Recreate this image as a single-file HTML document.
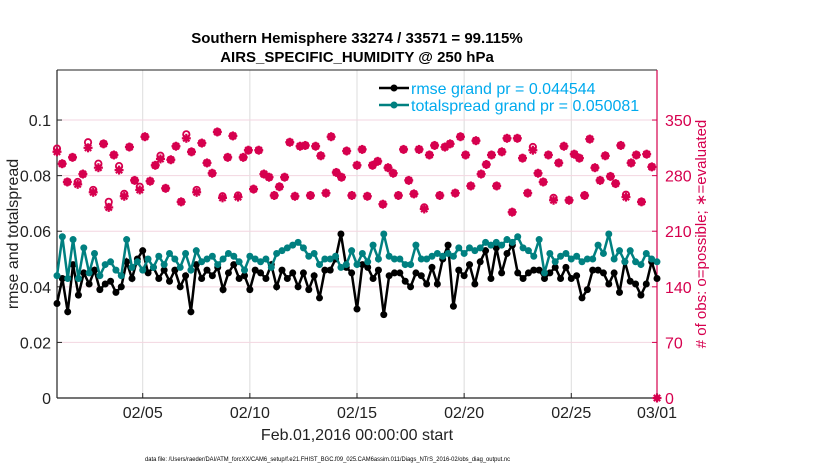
<!DOCTYPE html>
<html><head><meta charset="utf-8"><style>
body{margin:0;background:#fff;font-family:"Liberation Sans",sans-serif}
svg text{font-family:"Liberation Sans",sans-serif}
</style></head><body>
<svg id="c" width="830" height="470" xmlns="http://www.w3.org/2000/svg"></svg>
<script>
const rmse=[0.034,0.043,0.031,0.048,0.037,0.045,0.041,0.046,0.039,0.041,0.042,0.038,0.040,0.049,0.043,0.050,0.053,0.045,0.047,0.043,0.046,0.042,0.046,0.040,0.044,0.031,0.048,0.043,0.046,0.044,0.047,0.039,0.045,0.048,0.043,0.044,0.039,0.046,0.045,0.043,0.048,0.040,0.046,0.043,0.045,0.040,0.045,0.039,0.044,0.036,0.046,0.046,0.050,0.059,0.047,0.045,0.032,0.048,0.047,0.043,0.046,0.030,0.044,0.045,0.045,0.042,0.040,0.045,0.044,0.041,0.047,0.041,0.050,0.055,0.033,0.046,0.044,0.048,0.041,0.049,0.053,0.043,0.054,0.045,0.052,0.055,0.045,0.043,0.045,0.046,0.046,0.043,0.045,0.047,0.043,0.047,0.043,0.044,0.036,0.039,0.046,0.046,0.045,0.041,0.045,0.038,0.049,0.042,0.041,0.037,0.041,0.049,0.043];
const spread=[0.044,0.058,0.043,0.057,0.043,0.054,0.045,0.052,0.044,0.048,0.049,0.046,0.044,0.057,0.047,0.049,0.046,0.050,0.047,0.051,0.048,0.052,0.050,0.047,0.052,0.046,0.053,0.049,0.050,0.051,0.048,0.050,0.052,0.051,0.049,0.046,0.051,0.050,0.049,0.050,0.047,0.052,0.053,0.054,0.055,0.056,0.054,0.051,0.052,0.048,0.050,0.050,0.051,0.047,0.048,0.053,0.048,0.052,0.049,0.055,0.050,0.059,0.051,0.050,0.050,0.048,0.048,0.055,0.050,0.050,0.051,0.052,0.051,0.052,0.051,0.054,0.052,0.054,0.053,0.054,0.056,0.055,0.056,0.055,0.057,0.056,0.058,0.054,0.053,0.051,0.057,0.045,0.052,0.049,0.051,0.052,0.050,0.051,0.049,0.050,0.050,0.055,0.052,0.059,0.050,0.053,0.049,0.053,0.049,0.048,0.052,0.050,0.049];
const obsEval=[310,295,272,303,269,282,315,259,290,320,240,306,287,254,316,274,262,329,273,293,301,264,300,317,247,327,310,259,321,296,283,335,252,303,330,253,303,312,263,312,282,278,255,266,278,322,254,317,318,255,317,305,258,329,284,278,311,255,293,313,254,293,298,244,290,283,255,313,274,257,313,238,306,318,255,316,320,258,329,306,267,324,282,294,306,267,310,327,234,327,302,258,312,283,272,306,249,296,317,249,307,302,255,326,290,274,305,279,270,318,253,296,306,247,307,291,0];
const obsPoss=[314,295,272,303,272,282,322,262,295,320,247,306,292,257,316,274,266,329,273,293,305,264,300,317,247,332,310,262,321,296,283,335,254,303,330,255,303,312,263,312,282,278,255,266,278,322,254,317,318,255,317,305,258,329,284,278,311,255,293,313,254,293,298,244,290,283,255,313,274,257,313,240,306,318,255,316,320,258,329,306,267,324,282,294,306,267,310,327,234,327,302,258,316,283,272,306,252,296,317,249,307,302,255,326,290,274,305,279,270,318,256,296,306,247,307,291,0];
const xTicks=["02/05","02/10","02/15","02/20","02/25","03/01"];
const xTickDays=[4,9,14,19,24,28];
const yTicks=[0,0.02,0.04,0.06,0.08,0.1];
const yTickLabels=["0","0.02","0.04","0.06","0.08","0.1"];
const y2Ticks=[0,70,140,210,280,350];

const svg=document.getElementById('c');const NS="http://www.w3.org/2000/svg";
const L=57,R=657,T=70,B=398;
const xs=d=>L+(d/28)*(R-L);
const ys=v=>B-(v/0.118)*(B-T);
const y2=v=>B-(v/413)*(B-T);
const dayOf=(i,n)=>i*28/(n-1);
function el(t,a,p){const e=document.createElementNS(NS,t);for(const k in a)e.setAttribute(k,a[k]);(p||svg).appendChild(e);return e;}
xTickDays.forEach(d=>{const g=el('line',{x1:xs(d),x2:xs(d),y1:T,y2:B,stroke:'#dcdcdc','stroke-width':1});});
yTicks.slice(1).forEach(v=>{const g=el('line',{x1:L,x2:R,y1:ys(v),y2:ys(v),stroke:'#f3d6e0','stroke-width':1});});
let a=el('line',{x1:L,x2:R,y1:T,y2:T,stroke:'#222','stroke-width':1});
a=el('line',{x1:L,x2:L,y1:T,y2:B,stroke:'#222','stroke-width':1.2});
a=el('line',{x1:L,x2:R,y1:B,y2:B,stroke:'#222','stroke-width':1.2});
a=el('line',{x1:R,x2:R,y1:T,y2:B,stroke:'#d6004e','stroke-width':1.2});
yTicks.forEach((v,i)=>{el('line',{x1:L,x2:L+5,y1:ys(v),y2:ys(v),stroke:'#222'});const t=el('text',{x:L-6,y:ys(v)+6,'text-anchor':'end','font-size':16,fill:'#222'});t.textContent=yTickLabels[i];});
y2Ticks.forEach(v=>{el('line',{x1:R-5,x2:R,y1:y2(v),y2:y2(v),stroke:'#d6004e'});const t=el('text',{x:R+8,y:y2(v)+6,'font-size':16,fill:'#d6004e'});t.textContent=v;});
xTicks.forEach((s,i)=>{el('line',{x1:xs(xTickDays[i]),x2:xs(xTickDays[i]),y1:B,y2:B-5,stroke:'#222'});const t=el('text',{x:xs(xTickDays[i]),y:B+20,'text-anchor':'middle','font-size':16,fill:'#222'});t.textContent=s;});
function star(x,y,c){const g=el('g',{stroke:c,'stroke-width':2.2});[[0,1],[1,0],[0.7,0.7],[0.7,-0.7]].forEach(([dx,dy])=>el('line',{x1:x-dx*4.5,y1:y-dy*4.5,x2:x+dx*4.5,y2:y+dy*4.5},g));el('circle',{cx:x,cy:y,r:2.5,fill:c,stroke:'none'},g);return g;}
obsPoss.forEach((v,i)=>{if(v<=0)return;const c=el('circle',{cx:xs(dayOf(i,obsPoss.length)),cy:y2(v),r:3.2,fill:'none',stroke:'#d6004e','stroke-width':1.8});});
obsEval.forEach((v,i)=>{const g=star(xs(dayOf(i,obsEval.length)),y2(v),'#d6004e');});
function series(arr,c,name){const n=arr.length;const p=el('polyline',{points:arr.map((v,i)=>xs(dayOf(i,n))+','+ys(v)).join(' '),fill:'none',stroke:c,'stroke-width':2.5});
arr.forEach((v,i)=>{const m=el('circle',{cx:xs(dayOf(i,n)),cy:ys(v),r:3.5,fill:c});});}
series(rmse,'#000','rmse');
series(spread,'#008080','spread');
const lg=el('g',{});
[['#000','rmse grand pr = 0.044544',88],['#008080','totalspread grand pr = 0.050081',105]].forEach(([c,s,y])=>{el('line',{x1:379,x2:409,y1:y,y2:y,stroke:c,'stroke-width':2.5},lg);el('circle',{cx:394,cy:y,r:3.5,fill:c},lg);const t=el('text',{x:411,y:y+6,'font-size':16,fill:'#00aaee'},lg);t.textContent=s;});
function txt(x,y,s,o,n){const t=el('text',Object.assign({x:x,y:y},o));t.textContent=s;return t;}
txt(357,43,'Southern Hemisphere 33274 / 33571 = 99.115%',{'text-anchor':'middle','font-size':15,'font-weight':'bold',fill:'#000'},'chart-title');
txt(357,62,'AIRS_SPECIFIC_HUMIDITY @ 250 hPa',{'text-anchor':'middle','font-size':15,'font-weight':'bold',fill:'#000'},'chart-subtitle');
txt(357,440,'Feb.01,2016 00:00:00 start',{'text-anchor':'middle','font-size':16,fill:'#222'},'x-axis-title');
txt(18,234,'rmse and totalspread',{'text-anchor':'middle','font-size':16,fill:'#222',transform:'rotate(-90 18 234)'},'y-axis-title');
txt(706,234,'# of obs: o=possible; \u2217=evaluated',{'text-anchor':'middle','font-size':15,fill:'#d6004e',transform:'rotate(-90 706 234)'},'right-axis-title');
txt(145,461,'data file: /Users/raeder/DAI/ATM_forcXX/CAM6_setup/f.e21.FHIST_BGC.f09_025.CAM6assim.011/Diags_NTrS_2016-02/obs_diag_output.nc',{'font-size':6.5,fill:'#000',textLength:365,lengthAdjust:'spacingAndGlyphs'},'data-file-note');
</script>
</body></html>
